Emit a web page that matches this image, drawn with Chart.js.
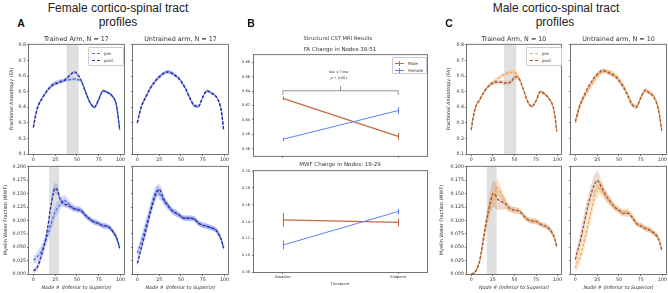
<!DOCTYPE html>
<html>
<head>
<meta charset="utf-8">
<script src="https://cdn.jsdelivr.net/npm/chart.js@4.4.1/dist/chart.umd.min.js"></script>
<style>
  body { margin: 0; background: #fff; width: 668px; height: 293px; position: relative; overflow: hidden; font-family: 'DejaVu Sans', sans-serif; color: #222; }
  canvas { position: absolute; }
  .t { position: absolute; white-space: nowrap; transform: translate(-50%, -50%); line-height: 1; }
  .v { position: absolute; white-space: nowrap; transform: translate(-50%, -50%) rotate(-90deg); line-height: 1; }
  .lg { position: absolute; border: 0.6px solid #ccc; border-radius: 1px; background: #fff; font-size: 4.2px; color: #333; }
  .row { display: flex; align-items: center; height: 7px; }
  .dash { width: 8px; height: 0; margin: 0 4px 0 3px; border-top: 1.2px dashed; }
</style>
</head>
<body>
<script>
// node positions sampled along the tract
const NODES = [0,2,5,10,15,20,23,25,28,30,35,40,45,48,50,55,60,65,70,75,80,85,90,95,97,99];
const XTICKS = [0,25,50,75,100];
const FA_TICKS = [0.1,0.2,0.3,0.4,0.5,0.6,0.7,0.8];
const MWF_TICKS = [0,0.025,0.05,0.075,0.1,0.125,0.15,0.175,0.2];

// female, trained arm, FA
const femTrainFaPre  = [0.27,0.33,0.40,0.455,0.50,0.535,0.55,0.555,0.56,0.565,0.57,0.575,0.58,0.58,0.578,0.565,0.50,0.43,0.40,0.45,0.505,0.495,0.475,0.42,0.35,0.255];
const femTrainFaPost = [0.27,0.33,0.40,0.455,0.50,0.53,0.545,0.55,0.555,0.56,0.57,0.595,0.62,0.625,0.615,0.57,0.495,0.43,0.40,0.45,0.505,0.495,0.475,0.42,0.35,0.255];
const femTrainFaPreErr  = [0.02,0.02,0.015,0.012,0.012,0.014,0.014,0.014,0.014,0.014,0.012,0.01,0.01,0.01,0.01,0.01,0.01,0.01,0.01,0.01,0.008,0.008,0.008,0.01,0.012,0.015];
const femTrainFaPostErr = [0.015,0.015,0.012,0.01,0.01,0.01,0.01,0.01,0.01,0.01,0.01,0.01,0.01,0.01,0.01,0.01,0.01,0.01,0.01,0.008,0.008,0.008,0.008,0.01,0.012,0.012];
// female, untrained arm, FA
const femUntrFaPre  = [0.30,0.35,0.41,0.465,0.52,0.56,0.58,0.59,0.605,0.615,0.63,0.62,0.60,0.585,0.57,0.525,0.465,0.415,0.405,0.465,0.505,0.49,0.47,0.41,0.35,0.25];
const femUntrFaPost = [0.30,0.35,0.41,0.47,0.525,0.565,0.585,0.595,0.61,0.618,0.625,0.615,0.595,0.58,0.565,0.52,0.46,0.41,0.405,0.465,0.505,0.49,0.47,0.41,0.35,0.25];
const femUntrFaPreErr  = [0.015,0.015,0.012,0.012,0.012,0.012,0.012,0.012,0.012,0.012,0.012,0.012,0.01,0.01,0.01,0.01,0.01,0.01,0.01,0.01,0.01,0.008,0.008,0.01,0.012,0.012];
const femUntrFaPostErr = [0.012,0.012,0.01,0.01,0.01,0.01,0.01,0.01,0.01,0.01,0.01,0.01,0.01,0.01,0.01,0.01,0.01,0.01,0.01,0.008,0.008,0.008,0.008,0.008,0.01,0.01];
// female, trained arm, MWF
const femTrainMwfPre  = [0.026,0.028,0.033,0.045,0.066,0.091,0.107,0.116,0.124,0.128,0.138,0.132,0.124,0.122,0.121,0.118,0.109,0.102,0.097,0.094,0.090,0.089,0.082,0.069,0.060,0.048];
const femTrainMwfPost = [0.006,0.008,0.014,0.039,0.072,0.125,0.152,0.160,0.155,0.143,0.131,0.128,0.123,0.121,0.120,0.118,0.109,0.102,0.097,0.094,0.090,0.089,0.082,0.069,0.060,0.048];
const femTrainMwfPreErr  = [0.008,0.008,0.01,0.012,0.012,0.012,0.012,0.012,0.012,0.01,0.01,0.008,0.007,0.006,0.006,0.006,0.005,0.005,0.005,0.005,0.005,0.005,0.005,0.005,0.005,0.005];
const femTrainMwfPostErr = [0.005,0.005,0.006,0.008,0.008,0.01,0.01,0.01,0.01,0.008,0.006,0.006,0.005,0.005,0.005,0.005,0.005,0.005,0.005,0.005,0.005,0.005,0.005,0.005,0.005,0.005];
// female, untrained arm, MWF
const femUntrMwfPre  = [0.039,0.048,0.063,0.091,0.121,0.149,0.155,0.150,0.143,0.137,0.128,0.118,0.113,0.110,0.107,0.104,0.104,0.103,0.095,0.091,0.089,0.086,0.082,0.069,0.060,0.048];
const femUntrMwfPost = [0.020,0.032,0.051,0.082,0.115,0.143,0.155,0.158,0.150,0.141,0.128,0.118,0.113,0.110,0.107,0.104,0.104,0.103,0.095,0.091,0.089,0.086,0.082,0.069,0.060,0.048];
const femUntrMwfPreErr  = [0.01,0.01,0.012,0.012,0.012,0.012,0.01,0.01,0.008,0.008,0.007,0.006,0.006,0.005,0.005,0.005,0.005,0.005,0.005,0.005,0.005,0.005,0.005,0.005,0.005,0.005];
const femUntrMwfPostErr = [0.008,0.008,0.008,0.01,0.01,0.01,0.01,0.01,0.009,0.008,0.007,0.006,0.006,0.005,0.005,0.005,0.005,0.005,0.005,0.005,0.005,0.005,0.005,0.005,0.005,0.005];

// male, trained arm, FA
const malTrainFaPre  = [0.255,0.33,0.40,0.45,0.50,0.535,0.55,0.555,0.57,0.58,0.60,0.615,0.62,0.627,0.625,0.59,0.52,0.44,0.405,0.44,0.50,0.485,0.455,0.40,0.34,0.245];
const malTrainFaPost = [0.255,0.33,0.40,0.45,0.50,0.535,0.55,0.555,0.56,0.56,0.56,0.555,0.56,0.575,0.595,0.585,0.52,0.44,0.405,0.44,0.50,0.485,0.455,0.40,0.34,0.245];
const malTrainFaPreErr  = [0.02,0.02,0.015,0.012,0.012,0.012,0.015,0.015,0.015,0.015,0.015,0.015,0.015,0.015,0.015,0.012,0.01,0.01,0.01,0.01,0.01,0.01,0.01,0.01,0.012,0.015];
const malTrainFaPostErr = [0.02,0.02,0.015,0.012,0.012,0.012,0.012,0.012,0.015,0.015,0.015,0.015,0.015,0.015,0.015,0.012,0.01,0.01,0.01,0.01,0.01,0.01,0.01,0.01,0.012,0.015];
// male, untrained arm, FA
const malUntrFaPre  = [0.30,0.34,0.40,0.46,0.51,0.555,0.58,0.595,0.61,0.625,0.63,0.625,0.61,0.595,0.58,0.54,0.485,0.425,0.41,0.46,0.505,0.495,0.47,0.40,0.34,0.255];
const malUntrFaPost = [0.31,0.35,0.41,0.475,0.53,0.575,0.60,0.61,0.625,0.635,0.63,0.615,0.60,0.585,0.57,0.53,0.475,0.415,0.40,0.46,0.51,0.49,0.465,0.39,0.33,0.25];
const malUntrFaPreErr  = [0.025,0.022,0.018,0.015,0.015,0.015,0.015,0.015,0.015,0.015,0.015,0.015,0.015,0.015,0.015,0.015,0.012,0.012,0.012,0.012,0.012,0.012,0.012,0.012,0.015,0.015];
const malUntrFaPostErr = [0.025,0.022,0.018,0.015,0.015,0.015,0.015,0.015,0.015,0.015,0.015,0.015,0.015,0.015,0.015,0.015,0.012,0.012,0.012,0.012,0.012,0.012,0.012,0.012,0.015,0.015];
// male, trained arm, MWF
const malTrainMwfPre  = [0.0,0.001,0.005,0.025,0.07,0.115,0.132,0.14,0.155,0.162,0.15,0.128,0.121,0.12,0.119,0.118,0.110,0.102,0.099,0.098,0.093,0.090,0.085,0.073,0.064,0.051];
const malTrainMwfPost = [0.0,0.001,0.005,0.027,0.076,0.119,0.14,0.15,0.147,0.141,0.135,0.131,0.122,0.12,0.119,0.118,0.110,0.102,0.099,0.098,0.093,0.090,0.085,0.073,0.064,0.051];
const malTrainMwfPreErr  = [0.002,0.002,0.003,0.006,0.01,0.012,0.015,0.015,0.015,0.015,0.012,0.008,0.006,0.006,0.006,0.005,0.005,0.005,0.005,0.005,0.005,0.005,0.005,0.005,0.005,0.005];
const malTrainMwfPostErr = [0.002,0.002,0.003,0.006,0.012,0.018,0.022,0.025,0.025,0.022,0.015,0.01,0.006,0.006,0.006,0.005,0.005,0.005,0.005,0.005,0.005,0.005,0.005,0.005,0.005,0.005];
// male, untrained arm, MWF
const malUntrMwfPre  = [0.011,0.02,0.03,0.06,0.095,0.13,0.15,0.155,0.16,0.157,0.145,0.135,0.125,0.121,0.119,0.115,0.117,0.108,0.095,0.091,0.086,0.083,0.077,0.068,0.059,0.046];
const malUntrMwfPost = [0.027,0.04,0.057,0.094,0.131,0.159,0.170,0.175,0.169,0.162,0.147,0.135,0.125,0.121,0.119,0.113,0.113,0.106,0.094,0.090,0.085,0.082,0.076,0.067,0.058,0.045];
const malUntrMwfPreErr  = [0.01,0.012,0.012,0.015,0.015,0.015,0.015,0.015,0.012,0.012,0.01,0.008,0.006,0.006,0.006,0.006,0.006,0.005,0.005,0.005,0.005,0.005,0.005,0.005,0.005,0.005];
const malUntrMwfPostErr = [0.012,0.012,0.015,0.018,0.018,0.018,0.018,0.017,0.015,0.012,0.01,0.008,0.006,0.006,0.006,0.006,0.006,0.005,0.005,0.005,0.005,0.005,0.005,0.005,0.005,0.005];

// panel B: group means at the two timepoints
const TIMEPOINTS = ['Baseline', 'Endpoint'];
const B_FA_TICKS = [0.56,0.58,0.60,0.62,0.64,0.66,0.68];
const B_MWF_TICKS = [0.08,0.10,0.12,0.14,0.16,0.18,0.20];
const faMale = [0.630, 0.577];
const faMaleErr = [0.001, 0.0034];
const faFemale = [0.573, 0.613];
const faFemaleErr = [0.001, 0.0034];
const mwfMale = [0.142, 0.139];
const mwfMaleErr = [0.007, 0.0035];
const mwfFemale = [0.112, 0.152];
const mwfFemaleErr = [0.004, 0.002];

const FEMALE = { pre: '#4a72ee', post: '#2a2aa0', preBand: 'rgba(110,140,240,0.30)', postBand: 'rgba(80,80,205,0.25)' };
const MALE = { pre: '#f6a85a', post: '#a4532e', preBand: 'rgba(250,185,120,0.35)', postBand: 'rgba(200,135,95,0.30)' };
const MALE_B = '#c46a42', FEMALE_B = '#5f80f2';

Chart.defaults.font.family = 'DejaVu Sans';
Chart.defaults.color = '#333';
Chart.defaults.animation = false;

function canvasAt(x, y, w, h) {
  const c = document.createElement('canvas');
  c.width = w; c.height = h;
  c.style.left = x + 'px'; c.style.top = y + 'px';
  c.style.width = w + 'px'; c.style.height = h + 'px';
  document.body.appendChild(c);
  return c;
}

function text(str, x, y, css, cls) {
  const d = document.createElement('div');
  d.className = cls || 't';
  d.style.left = x + 'px'; d.style.top = y + 'px';
  d.style.cssText += css || '';
  d.innerHTML = str;
  document.body.appendChild(d);
  return d;
}

const framePlugin = {
  id: 'frame',
  afterDraw(c) {
    const a = c.chartArea, ctx = c.ctx;
    ctx.save();
    ctx.strokeStyle = '#666';
    ctx.lineWidth = 0.9;
    ctx.strokeRect(a.left - 0.5, a.top - 0.5, a.right - a.left + 1, a.bottom - a.top + 1);
    ctx.restore();
  }
};

function shadePlugin(range) {
  return {
    id: 'shade',
    beforeDatasetsDraw(c) {
      if (!range) return;
      const a = c.chartArea, ctx = c.ctx, xs = c.scales.x;
      const x0 = xs.getPixelForValue(range[0]), x1 = xs.getPixelForValue(range[1]);
      ctx.save();
      ctx.fillStyle = 'rgba(160,160,160,0.33)';
      ctx.fillRect(x0, a.top, x1 - x0, a.bottom - a.top);
      ctx.restore();
    }
  };
}

const tickGrid = { display: true, drawOnChartArea: false, drawTicks: true, tickLength: 2, tickColor: '#444', tickWidth: 0.7 };

function profile(box, isFA, showY, pre, preErr, post, postErr, pal, range) {
  const L = showY ? 20 : 3, T = 3, R = 3, B = 10;
  const w = box[2] - box[0], h = box[3] - box[1];
  const cv = canvasAt(box[0] - L, box[1] - T, w + L + R, h + T + B);
  const pts = v => NODES.map((n, i) => ({ x: n, y: v[i] }));
  const lo = (v, e) => NODES.map((n, i) => ({ x: n, y: v[i] - e[i] }));
  const hi = (v, e) => NODES.map((n, i) => ({ x: n, y: v[i] + e[i] }));
  const line = (v, col) => ({ data: pts(v), borderColor: col, borderWidth: 1.3, borderDash: [3, 1.6], pointRadius: 0, fill: false, cubicInterpolationMode: 'monotone' });
  const band = (data, col, target) => ({ data, borderWidth: 0, pointRadius: 0, backgroundColor: col, fill: target, cubicInterpolationMode: 'monotone' });
  const yTicks = isFA ? FA_TICKS : MWF_TICKS;
  new Chart(cv, {
    type: 'line',
    data: { datasets: [
      line(post, pal.post),
      line(pre, pal.pre),
      band(lo(post, postErr), 'transparent', false),
      band(hi(post, postErr), pal.postBand, 2),
      band(lo(pre, preErr), 'transparent', false),
      band(hi(pre, preErr), pal.preBand, 4)
    ] },
    options: {
      responsive: false,
      devicePixelRatio: 1,
      layout: { padding: { top: T, right: R, left: 0, bottom: 0 } },
      plugins: { legend: { display: false }, tooltip: { enabled: false } },
      scales: {
        x: {
          type: 'linear', min: -4.95, max: 103.95,
          afterBuildTicks: s => { s.ticks = XTICKS.map(v => ({ value: v })); },
          afterFit: s => { s.height = B; },
          ticks: { font: { size: 4.7 }, padding: 1, maxRotation: 0, autoSkip: false, callback: v => String(v) },
          grid: tickGrid, border: { display: false }
        },
        y: {
          min: isFA ? 0.1 : 0, max: isFA ? 0.8 : 0.2,
          afterBuildTicks: s => { s.ticks = yTicks.map(v => ({ value: v })); },
          afterFit: s => { s.width = L; },
          ticks: { font: { size: 4.7 }, padding: 1, autoSkip: false, callback: v => showY ? v.toFixed(isFA ? 1 : 3) : '' },
          grid: tickGrid, border: { display: false }
        }
      }
    },
    plugins: [shadePlugin(range), framePlugin]
  });
}

// error bars + bracket for panel B
const errPlugin = {
  id: 'errbars',
  afterDatasetsDraw(c) {
    const ctx = c.ctx, xs = c.scales.x, ys = c.scales.y;
    c.data.datasets.forEach(ds => {
      if (!ds.errs) return;
      ctx.save();
      ctx.strokeStyle = ds.borderColor; ctx.lineWidth = 1;
      ds.data.forEach((p, i) => {
        const px = Math.round(xs.getPixelForValue(p.x)) + 0.5;
        ctx.beginPath();
        ctx.moveTo(px, ys.getPixelForValue(p.y - ds.errs[i]) + 1);
        ctx.lineTo(px, ys.getPixelForValue(p.y + ds.errs[i]) - 1);
        ctx.stroke();
      });
      ctx.restore();
    });
  }
};

function bracketPlugin(br) {
  return {
    id: 'bracket',
    afterDatasetsDraw(c) {
      if (!br) return;
      const ctx = c.ctx, xs = c.scales.x, ys = c.scales.y;
      const x0 = xs.getPixelForValue(br[0]), x1 = xs.getPixelForValue(br[1]);
      const y = ys.getPixelForValue(br[2]), yd = ys.getPixelForValue(br[3]), yu = ys.getPixelForValue(br[4]);
      const xm = (x0 + x1) / 2;
      ctx.save();
      ctx.strokeStyle = '#777'; ctx.lineWidth = 0.8;
      ctx.beginPath();
      ctx.moveTo(x0, yd); ctx.lineTo(x0, y); ctx.lineTo(x1, y); ctx.lineTo(x1, yd);
      ctx.moveTo(xm, y); ctx.lineTo(xm, yu);
      ctx.stroke();
      ctx.restore();
    }
  };
}

function bChart(box, ticks, yMin, yMax, male, maleErr, female, femaleErr, showX, br) {
  const L = 20, T = 3, R = 3, B = showX ? 9 : 4;
  const w = box[2] - box[0], h = box[3] - box[1];
  const cv = canvasAt(box[0] - L, box[1] - T, w + L + R, h + T + B);
  const pts = v => v.map((y, i) => ({ x: i, y }));
  new Chart(cv, {
    type: 'line',
    data: { datasets: [
      { data: pts(female), errs: femaleErr, borderColor: FEMALE_B, borderWidth: 1, pointRadius: 0 },
      { data: pts(male), errs: maleErr, borderColor: MALE_B, borderWidth: 1.2, pointRadius: 0 }
    ] },
    options: {
      responsive: false,
      devicePixelRatio: 1,
      layout: { padding: { top: T, right: R, left: 0, bottom: 0 } },
      plugins: { legend: { display: false }, tooltip: { enabled: false } },
      scales: {
        x: {
          type: 'linear', min: -0.25, max: 1.25,
          afterBuildTicks: s => { s.ticks = [0, 1].map(v => ({ value: v })); },
          afterFit: s => { s.height = B; },
          ticks: { font: { size: 3.6 }, padding: 1, maxRotation: 0, autoSkip: false, callback: v => showX ? TIMEPOINTS[v] : '' },
          grid: tickGrid, border: { display: false }
        },
        y: {
          min: yMin, max: yMax,
          afterBuildTicks: s => { s.ticks = ticks.map(v => ({ value: v })); },
          afterFit: s => { s.width = L; },
          ticks: { font: { size: 3.6 }, padding: 2, autoSkip: false, callback: v => v.toFixed(2) },
          grid: tickGrid, border: { display: false }
        }
      }
    },
    plugins: [errPlugin, bracketPlugin(br), framePlugin]
  });
}

// ---- panel A (female) ----
profile([29, 44, 124, 154], true, true, femTrainFaPre, femTrainFaPreErr, femTrainFaPost, femTrainFaPostErr, FEMALE, [38, 52]);
profile([133, 44, 228, 154], true, false, femUntrFaPre, femUntrFaPreErr, femUntrFaPost, femUntrFaPostErr, FEMALE, null);
profile([29, 166, 124, 274], false, true, femTrainMwfPre, femTrainMwfPreErr, femTrainMwfPost, femTrainMwfPostErr, FEMALE, [18, 29.5]);
profile([133, 166, 228, 274], false, false, femUntrMwfPre, femUntrMwfPreErr, femUntrMwfPost, femUntrMwfPostErr, FEMALE, null);

// ---- panel C (male) ----
profile([467, 44, 561, 154], true, true, malTrainFaPre, malTrainFaPreErr, malTrainFaPost, malTrainFaPostErr, MALE, [38, 52]);
profile([571, 44, 666, 154], true, false, malUntrFaPre, malUntrFaPreErr, malUntrFaPost, malUntrFaPostErr, MALE, null);
profile([467, 166, 561, 274], false, true, malTrainMwfPre, malTrainMwfPreErr, malTrainMwfPost, malTrainMwfPostErr, MALE, [18, 29.5]);
profile([571, 166, 666, 274], false, false, malUntrMwfPre, malUntrMwfPreErr, malUntrMwfPost, malUntrMwfPostErr, MALE, null);

// ---- panel B ----
bChart([254, 54, 427, 156], B_FA_TICKS, 0.55, 0.69, faMale, faMaleErr, faFemale, faFemaleErr, false, [0, 1, 0.6405, 0.6345, 0.647]);
bChart([254, 170, 427, 272], B_MWF_TICKS, 0.08, 0.20, mwfMale, mwfMaleErr, mwfFemale, mwfFemaleErr, true, null);

// ---- text ----
const big = 'font-family:"Liberation Sans",Arial,sans-serif;font-size:12px;color:#222;';
const letter = 'font-family:"Liberation Sans",Arial,sans-serif;font-size:10.5px;font-weight:bold;color:#111;';
const sub = 'font-size:6.4px;color:#333;';
const ax = 'font-size:4.9px;color:#333;';
const axi = 'font-size:4.9px;color:#333;font-style:italic;';

text('Female cortico-spinal tract', 118, 8, big);
text('profiles', 118, 22, big);
text('A', 21, 23, letter);
text('Trained Arm, N = 17', 76.5, 39, sub);
text('Untrained arm, N = 17', 180.5, 39, sub);
text('Fractional Anisotropy (FA)', 11, 99, ax, 'v');
text('Myelin Water Fraction (MWF)', 5, 220, ax, 'v');
text('Node # (Inferior to Superior)', 76.5, 287, axi);
text('Node # (Inferior to Superior)', 180.5, 287, axi);

text('Male cortico-spinal tract', 556, 8, big);
text('profiles', 555, 22, big);
text('C', 449, 23, letter);
text('Trained Arm, N = 10', 514, 39, sub);
text('Untrained arm, N = 10', 618.5, 39, sub);
text('Fractional Anisotropy (FA)', 448, 99, ax, 'v');
text('Myelin Water Fraction (MWF)', 441, 220, ax, 'v');
text('Node # (Inferior to Superior)', 514, 287, axi);
text('Node # (Inferior to Superior)', 618.5, 287, axi);

text('B', 251, 23, letter);
text('Structural CST MRI Results', 338, 39, 'font-size:5.2px;color:#333;');
text('FA Change in Nodes 38-51', 340, 50, 'font-size:5.5px;color:#333;');
text('MWF Change in Nodes: 18-29', 340, 165, 'font-size:5.5px;color:#333;');
text('Timepoint', 340, 284, 'font-size:3.8px;color:#333;');
text('Sex \u00d7 Time:', 339, 72.5, 'font-size:3.4px;color:#333;');
text('<i>p</i> &lt; 0.001', 339, 79, 'font-size:3.4px;color:#333;');

// legends
function legendBox(x, y, w, h, rows) {
  const d = document.createElement('div');
  d.className = 'lg';
  d.style.left = x + 'px'; d.style.top = y + 'px';
  d.style.width = w + 'px'; d.style.height = h + 'px';
  d.style.paddingTop = '1.5px';
  rows.forEach(r => {
    const row = document.createElement('div');
    row.className = 'row';
    row.innerHTML = r.html;
    d.appendChild(row);
  });
  document.body.appendChild(d);
}
const dashRow = (col, lab) => ({ html: '<span class="dash" style="border-color:' + col + '"></span><span>' + lab + '</span>' });
const crossRow = (col, lab) => ({ html: '<span style="position:relative;width:9px;height:5px;margin:0 4px 0 2px;display:inline-block">' +
  '<span style="position:absolute;left:0;top:2px;width:9px;height:1px;background:' + col + '"></span>' +
  '<span style="position:absolute;left:4px;top:0;width:1px;height:5px;background:' + col + '"></span></span><span>' + lab + '</span>' });

legendBox(88, 47, 34, 15, [dashRow(FEMALE.pre, 'pre'), dashRow(FEMALE.post, 'post')]);
legendBox(526, 47, 34, 15, [dashRow(MALE.pre, 'pre'), dashRow(MALE.post, 'post')]);
legendBox(392, 57, 33, 13, [crossRow(MALE_B, 'Male'), crossRow(FEMALE_B, 'Female')]);
</script>
</body>
</html>
